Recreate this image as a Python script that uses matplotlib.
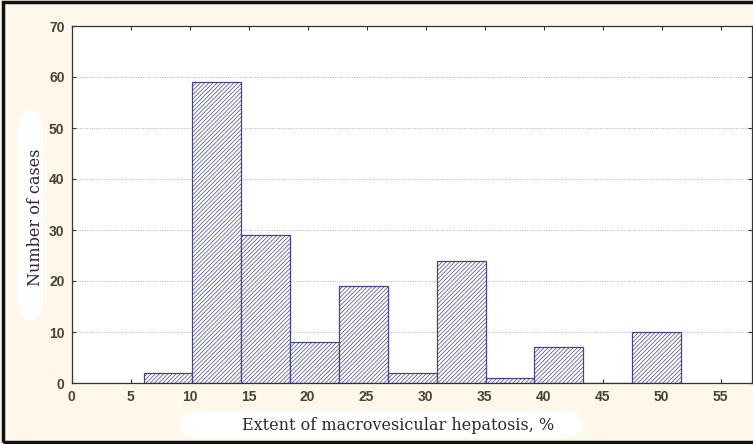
import matplotlib
matplotlib.use("Agg")
import matplotlib.pyplot as plt
from matplotlib.patches import Rectangle, FancyBboxPatch
import numpy as np

# Data
bin_start = 6.1
bin_width = 4.14
counts = [2, 59, 29, 8, 19, 2, 24, 1, 7, 0, 10]
x_ticks = [0, 5, 10, 15, 20, 25, 30, 35, 40, 45, 50, 55]
y_ticks = [0, 10, 20, 30, 40, 50, 60, 70]
x_label = "Extent of macrovesicular hepatosis, %"
y_label = "Number of cases"

plt.rcParams['hatch.linewidth'] = 0.5
plt.rcParams['hatch.color'] = '#6a6aa8'

W, H = 753, 444
fig = plt.figure(figsize=(W / 100, H / 100), dpi=100)
fig.patch.set_facecolor('#fdf8ea')

ax = fig.add_axes([71.5 / W, (H - 383) / H, (752 - 71.5) / W, (383 - 26) / H])
ax.set_facecolor('white')

edges = bin_start + bin_width * np.arange(len(counts) + 1)
ax.hist(edges[:-1], bins=edges, weights=counts, facecolor='white',
        edgecolor='#45458c', linewidth=0.9, hatch='////////')

ax.set_xlim(0, 57.65)
ax.set_ylim(0, 70)
ax.set_xticks(x_ticks)
ax.set_yticks(y_ticks)
ax.tick_params(direction='in', length=3, width=0.8, top=True, right=True,
               labelsize=10, labelcolor='#4a4136', color='#333333', pad=5)
for lab in ax.get_xticklabels() + ax.get_yticklabels():
    lab.set_fontfamily('Liberation Sans')
    lab.set_fontweight('bold')
ax.yaxis.grid(True, linestyle=(0, (1, 1.5)), color='#b0b0b0', linewidth=0.7)
ax.set_axisbelow(True)
for s in ax.spines.values():
    s.set_color('#333333')
    s.set_linewidth(0.9)

# soft white label backgrounds (pixel coords -> figure fraction)
def px_box(x0, y0, x1, y1, r):
    return FancyBboxPatch((x0 / W, 1 - y1 / H), (x1 - x0) / W, (y1 - y0) / H,
                          boxstyle=f"round,pad=0,rounding_size={r / H}",
                          transform=fig.transFigure, fc='white', ec='none',
                          mutation_aspect=W / H, zorder=0.5)

fig.add_artist(px_box(178, 411, 584, 438, 12))
fig.add_artist(px_box(18, 108, 43, 322, 12))

fig.text(398 / W, 1 - 425 / H, x_label, ha='center', va='center',
         fontsize=11.5, family='DejaVu Serif', color='#2a2a2a', zorder=1)
fig.text(35 / W, 1 - 217 / H, y_label, ha='center', va='center', rotation=90,
         fontsize=11.5, family='DejaVu Serif', color='#2a2a2a', zorder=1)

# outer border
fig.add_artist(Rectangle((2.5 / W, 2.5 / H), 1.0, 1 - 5 / H, transform=fig.transFigure,
                         fill=False, edgecolor='#111111', linewidth=2.5, clip_on=False))

fig.savefig('out.png', dpi=100, facecolor=fig.get_facecolor())
